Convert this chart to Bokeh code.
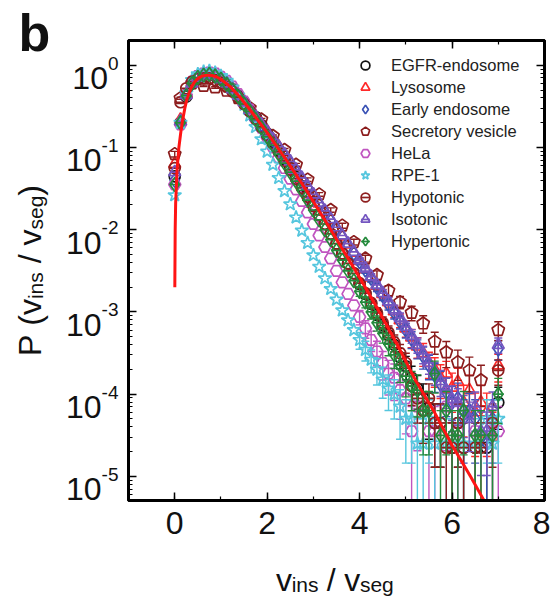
import numpy as np
from bokeh.plotting import figure
from bokeh.layouts import row, column
from bokeh.models import (Range1d, LinearAxis, LogAxis, FixedTicker, SingleIntervalTicker,
                          Legend, LegendItem, CustomJSTickFormatter, LogScale)
from bokeh.core.properties import value
from bokeh.embed import file_html
from bokeh.resources import INLINE

nan = float("nan")

# ---------------- data (values are log10 of P) ----------------
x_bins = [0, 0.125, 0.25, 0.375, 0.5, 0.625, 0.75, 0.875, 1, 1.125, 1.25, 1.375, 1.5, 1.625,
          1.75, 1.875, 2, 2.125, 2.25, 2.375, 2.5, 2.625, 2.75, 2.875, 3, 3.125, 3.25, 3.375,
          3.5, 3.625, 3.75, 3.875, 4, 4.125, 4.25, 4.375, 4.5, 4.625, 4.75, 4.875, 5, 5.125,
          5.25, 5.375, 5.5, 5.625, 5.75, 5.875, 6, 6.125, 6.25, 6.375, 6.5, 6.625, 6.75, 6.875, 7]

egfr_log = [-1.35, -0.70, -0.38, -0.22, -0.15, -0.12, -0.11, -0.13, -0.17, -0.22, -0.29, -0.37,
            -0.45, -0.54, -0.63, -0.73, -0.83, -0.93, -1.04, -1.14, -1.25, -1.36, -1.47, -1.59,
            -1.70, -1.82, -1.93, -2.05, -2.17, -2.29, -2.41, -2.53,
            -2.66, -2.78, -2.90, -3.03, -3.16, -3.28, -3.40, -3.55, -3.66, -3.80, -3.93, -4.05,
            -4.17, -4.35, -4.35, nan, -4.65, -4.35, -4.65, nan, -4.65, nan, -4.65, nan, -4.10]
egfr_err = [0.10, 0.12, 0.13, 0.15, 0.18, 0.21, 0.24, 0.28, 0.32, 0.38, 0.44, 0.50, 0.58, 0.71,
            0.71, 0, 1.0, 0.71, 1.0, 0, 1.0, 0, 1.0, 0, 0.53]

lyso_log = [-1.20, -0.66, -0.35, -0.21, -0.14, -0.11, -0.10, -0.12, -0.16, -0.21, -0.28, -0.36,
            -0.44, -0.53, -0.62, -0.71, -0.80, -0.90, -0.99, -1.09, -1.18, -1.28, -1.38, -1.48,
            -1.58, -1.68, -1.78, -1.88, -1.98, -2.08, -2.18, -2.28,
            -2.38, -2.48, -2.58, -2.68, -2.78, -2.88, -2.99, -3.10, -3.20, -3.31, -3.42, -3.50,
            -3.62, -3.70, -3.80, -3.75, -3.92, -3.85, -4.10, -3.95, -4.22, -4.10, -4.22, -4.52, -3.65]
lyso_err = [0.085, 0.095, 0.11, 0.12, 0.135, 0.15, 0.17, 0.19, 0.22, 0.25, 0.28, 0.31, 0.35,
            0.39, 0.44, 0.41, 0.50, 0.46, 0.62, 0.52, 0.71, 0.62, 0.71, 1.0, 0.37]

early_log = [-1.40, -0.70, -0.37, -0.22, -0.15, -0.12, -0.11, -0.13, -0.17, -0.22, -0.29, -0.37,
             -0.45, -0.54, -0.63, -0.72, -0.81, -0.91, -1.00, -1.10, -1.19, -1.29, -1.39, -1.49,
             -1.59, -1.69, -1.79, -1.89, -1.99, -2.09, -2.19, -2.29,
             -2.39, -2.49, -2.59, -2.70, -2.80, -2.91, -3.01, -3.12, -3.22, -3.33, -3.44, -3.54,
             -3.65, -3.77, -3.88, -3.98, -4.10, -4.05, -4.30, -4.20, -4.30, nan, -4.60, -4.30, -3.45]
early_err = [0.08, 0.09, 0.10, 0.11, 0.13, 0.14, 0.16, 0.18, 0.20, 0.23, 0.26, 0.30, 0.33, 0.38,
             0.44, 0.49, 0.56, 0.53, 0.71, 0.63, 0.71, 0, 1.0, 0.71, 0.27]

secr_x = [0, 0.125, 0.375, 0.625, 0.875, 1.125, 1.375, 1.625, 1.875, 2.125, 2.375, 2.625, 2.875,
          3.125, 3.375, 3.625, 3.875, 4.125, 4.375, 4.625, 4.875, 5.125, 5.375, 5.625, 5.875,
          6.125, 6.375, 6.625, 7]
secr_log = [-1.08, -0.40, -0.22, -0.25, -0.27, -0.31, -0.40, -0.52, -0.66, -0.86, -1.03, -1.21,
            -1.39, -1.57, -1.76, -1.95, -2.15, -2.35, -2.55, -2.74, -2.88, -3.01, -3.14, -3.36,
            -3.49, -3.61, -3.71, -3.83, -3.22]
secr_err = [0.08, 0.03, 0.02, 0.02, 0.02, 0.02, 0.02, 0.03, 0.03, 0.03, 0.04, 0.04, 0.05, 0.05,
            0.06, 0.07, 0.08, 0.095, 0.12, 0.15, 0.17, 0.20, 0.24, 0.30, 0.35, 0.40, 0.45, 0.52, 0.26]

hela_log = [-1.45, -0.72, -0.36, -0.20, -0.13, -0.10, -0.09, -0.10, -0.14, -0.19, -0.26, -0.35,
            -0.44, -0.54, -0.65, -0.76, -0.88, -1.00, -1.12, -1.25, -1.38, -1.51, -1.65, -1.79,
            -1.93, -2.07, -2.21, -2.35, -2.50, -2.64, -2.78, -2.92,
            -3.06, -3.20, -3.34, -3.48, -3.62, -3.75, -3.80, -3.95, -4.05, -4.45, -4.15, nan,
            -4.45, -4.45, nan, -4.15, nan, -4.45, nan, nan, -4.45, nan, nan, -4.45, -4.45]
hela_err = [0.20, 0.24, 0.28, 0.33, 0.38, 0.45, 0.47, 0.56, 0.63, 1.0, 0.71, 0, 1.0, 1.0, 0,
            0.71, 0, 1.0, 0, 0, 1.0, 0, 0, 1.0, 1.0]

rpe_log = [-1.58, -0.70, -0.34, -0.18, -0.11, -0.08, -0.07, -0.09, -0.13, -0.19, -0.27, -0.37,
           -0.48, -0.61, -0.75, -0.90, -1.05, -1.21, -1.37, -1.53, -1.69, -1.85, -2.01, -2.16,
           -2.31, -2.45, -2.59, -2.72, -2.85, -2.98, -3.10, -3.22,
           -3.34, -3.46, -3.58, -3.70, -3.82, -3.93, -4.00, -4.15, -4.30, -4.30, -4.60, -4.60,
           -4.30, -4.60, nan, -4.60, -4.60, nan, -4.60, nan, -4.60, nan, -4.30, -4.60, -4.30]
rpe_err = [0.23, 0.27, 0.31, 0.35, 0.41, 0.46, 0.50, 0.60, 0.71, 0.71, 1.0, 1.0, 0.71, 1.0, 0,
           1.0, 1.0, 0, 1.0, 0, 1.0, 0, 0.71, 1.0, 0.71]

hypo_log = [-1.25, -0.45, -0.28, -0.20, -0.17, -0.16, -0.16, -0.18, -0.21, -0.26, -0.32, -0.39,
            -0.47, -0.56, -0.65, -0.75, -0.85, -0.95, -1.05, -1.16, -1.27, -1.38, -1.49, -1.60,
            -1.71, -1.82, -1.93, -2.05, -2.17, -2.29, -2.41, -2.53,
            -2.65, -2.77, -2.89, -3.01, -3.13, -3.25, -3.37, -3.50, -3.62, -3.90, -4.05, -4.20,
            -4.05, -4.35, -4.35, -4.65, -4.65, -4.35, -4.65, nan, -4.65, -4.65, nan, -4.35, -3.71]
hypo_err = [0.10, 0.11, 0.13, 0.15, 0.17, 0.20, 0.23, 0.27, 0.31, 0.42, 0.50, 0.60, 0.50, 0.71,
            0.71, 1.0, 1.0, 0.71, 1.0, 0, 1.0, 1.0, 0, 0.71, 0.34]

iso_log = [-1.30, -0.68, -0.36, -0.22, -0.15, -0.12, -0.11, -0.13, -0.17, -0.22, -0.29, -0.37,
           -0.45, -0.54, -0.63, -0.72, -0.81, -0.90, -0.99, -1.08, -1.17, -1.27, -1.37, -1.47,
           -1.57, -1.67, -1.77, -1.87, -1.97, -2.07, -2.17, -2.27,
           -2.37, -2.47, -2.57, -2.67, -2.77, -2.87, -2.97, -3.07, -3.18, -3.29, -3.40, -3.51,
           -3.62, -3.73, -3.84, -3.95, -4.06, -4.10, -4.20, -4.30, -4.15, -4.45, -4.45, -4.15, -3.40]
iso_err = [0.065, 0.07, 0.08, 0.09, 0.10, 0.11, 0.13, 0.14, 0.16, 0.19, 0.21, 0.24, 0.27, 0.31,
           0.35, 0.40, 0.45, 0.47, 0.53, 0.60, 0.50, 0.71, 0.71, 0.50, 0.21]

hyper_log = [-1.45, -0.70, -0.37, -0.22, -0.15, -0.12, -0.11, -0.13, -0.17, -0.23, -0.30, -0.38,
             -0.47, -0.56, -0.66, -0.76, -0.87, -0.97, -1.08, -1.19, -1.30, -1.41, -1.52, -1.64,
             -1.76, -1.88, -2.00, -2.12, -2.25, -2.37, -2.50, -2.62,
             -2.75, -2.88, -3.00, -3.13, -3.26, -3.39, -3.52, -3.65, -3.78, -3.90, -3.95, -4.20,
             -4.20, -3.75, -4.50, -4.20, -4.50, -4.50, -4.20, nan, -4.50, -4.50, nan, -4.50, -4.00]
hyper_err = [0.13, 0.15, 0.18, 0.21, 0.24, 0.28, 0.32, 0.38, 0.44, 0.50, 0.53, 0.71, 0.71, 0.42,
             1.0, 0.71, 1.0, 1.0, 0.71, 0, 1.0, 1.0, 0, 1.0, 0.56]

fit_x = [0.002, 0.01, 0.02, 0.05, 0.09, 0.13, 0.17, 0.22, 0.27, 0.35, 0.42, 0.5, 0.6, 0.7, 0.8,
         0.9, 1.0, 1.2, 1.4, 1.6, 1.8, 2.0, 2.2, 2.4, 2.6, 2.8, 3.0, 3.3, 3.6, 4.0, 4.4, 4.8,
         5.2, 5.6, 6.0, 6.4, 6.7]
fit_log = [-2.70, -2.00, -1.68, -1.28, -1.00, -0.82, -0.67, -0.52, -0.40, -0.28, -0.21, -0.16,
           -0.13, -0.12, -0.125, -0.14, -0.17, -0.26, -0.38, -0.52, -0.67, -0.82, -0.98, -1.14,
           -1.31, -1.48, -1.66, -1.93, -2.21, -2.58, -2.97, -3.38, -3.82, -4.20, -4.62, -5.00, -5.30]

y_tick_values = [1, 1e-1, 1e-2, 1e-3, 1e-4, 1e-5]
y_tick_exponents = ["0", "-1", "-2", "-3", "-4", "-5"]

series = [
    dict(name="EGFR-endosome", x=x_bins, logp=egfr_log, err=egfr_err, marker="circle", size=11, color="#111111", bar=None),
    dict(name="Lysosome", x=x_bins, logp=lyso_log, err=lyso_err, marker="triangle", size=12, color="#ff2a2a", bar=None),
    dict(name="Early endosome", x=x_bins, logp=early_log, err=early_err, marker="diamond", size=14, color="#3a52b5", bar=None),
    dict(name="Secretory vesicle", x=secr_x, logp=secr_log, err=secr_err, marker="pentagon", size=12, color="#8b1c1c", bar=None),
    dict(name="HeLa", x=x_bins, logp=hela_log, err=hela_err, marker="hex", size=12, color="#c055c0", bar=None),
    dict(name="RPE-1", x=x_bins, logp=rpe_log, err=rpe_err, marker="star", size=14, color="#55c6de", bar=None),
    dict(name="Hypotonic", x=x_bins, logp=hypo_log, err=hypo_err, marker="circle", size=11, color="#8e1e1e", bar=10),
    dict(name="Isotonic", x=x_bins, logp=iso_log, err=iso_err, marker="triangle", size=12, color="#7456c0", bar=8),
    dict(name="Hypertonic", x=x_bins, logp=hyper_log, err=hyper_err, marker="diamond", size=14, color="#248a3c", bar=11),
]

FONT = "Liberation Sans"
TXT = "#111111"
W, H = 550, 600
LEFT_W = 126                          # width of the left text strip
MAIN_H = 560
FL, FT, FR, FB = 128, 40, 544, 500    # frame edges on the page
Y0, Y1 = 5.1e-6, 2.0

# ---------------- main plot ----------------
p = figure(width=W - LEFT_W, height=MAIN_H, title=None, x_range=Range1d(-1, 8),
           y_range=Range1d(Y0, Y1), y_axis_type="log", output_backend="svg",
           toolbar_location=None, min_border_left=FL - LEFT_W, min_border_right=W - FR,
           min_border_top=FT, min_border_bottom=MAIN_H - FB)
p.grid.visible = False
p.outline_line_color = "black"
p.outline_line_width = 3
p.background_fill_color = "white"
p.border_fill_color = "white"

xt = SingleIntervalTicker(interval=2, num_minor_ticks=2)
minor_y = [m * 10.0 ** e for e in range(-6, 1) for m in range(2, 10)]
yt = FixedTicker(ticks=y_tick_values, minor_ticks=minor_y)
blank = CustomJSTickFormatter(code="return ''")

def style_axis(ax, labels=True):
    ax.axis_line_width = 3
    ax.axis_line_color = "black"
    ax.major_tick_in = 8
    ax.major_tick_out = 0
    ax.minor_tick_in = 4
    ax.minor_tick_out = 0
    ax.major_tick_line_width = 1.5
    ax.minor_tick_line_width = 1.2
    ax.major_tick_line_color = "black"
    ax.minor_tick_line_color = "black"
    if not labels:
        ax.formatter = blank
        ax.major_label_standoff = 0

p.xaxis.ticker = xt
style_axis(p.xaxis[0])
p.xaxis.major_label_text_font = FONT
p.xaxis.major_label_text_font_size = "32px"
p.xaxis.major_label_text_color = TXT
p.xaxis.major_label_standoff = 11
p.yaxis.ticker = yt
style_axis(p.yaxis[0], labels=False)

top = LinearAxis(ticker=xt)
style_axis(top, labels=False)
p.add_layout(top, "above")
right = LogAxis(ticker=yt)
style_axis(right, labels=False)
p.add_layout(right, "right")

items = []
for s in series:
    c = s["color"]
    x = np.array(s["x"], dtype=float)
    y = 10.0 ** np.array(s["logp"], dtype=float)
    e = np.array(s["err"], dtype=float)
    if len(e) < len(x):
        e = np.concatenate([np.zeros(len(x) - len(e)), e])
    ok = np.isfinite(y) & (e > 0)
    up = y * (1 + e)
    lo = np.where(e >= 1, 1e-7, y * (1 - e))
    p.segment(x0=x[ok], y0=lo[ok], x1=x[ok], y1=up[ok], line_color=c, line_width=1.4)
    p.scatter(x=x[ok], y=up[ok], marker="dash", size=8, line_color=c, line_width=1.4)
    lc = ok & (e < 1)
    p.scatter(x=x[lc], y=lo[lc], marker="dash", size=8, line_color=c, line_width=1.4)
    fin = np.isfinite(y)
    if s["marker"] == "pentagon":
        r = p.ngon(x=x[fin], y=y[fin], radius=6.5, radius_units="screen", n=5,
                   fill_color=None, line_color=c, line_width=1.7)
    else:
        r = p.scatter(x=x[fin], y=y[fin], marker=s["marker"], size=s["size"],
                      fill_color=None, line_color=c, line_width=1.7)
    rs = [r]
    if s["bar"]:
        rd = p.scatter(x=x[fin], y=y[fin], marker="dash", size=s["bar"], line_color=c,
                       line_width=1.7)
        rs.append(rd)
    items.append(LegendItem(label=s["name"], renderers=rs))

p.line(x=fit_x, y=10.0 ** np.array(fit_log), line_color="#ff1414", line_width=3)

ROW = 22
legend = Legend(items=items, location=(350 - FL, FB - (54 + 9 * ROW)), glyph_width=30,
                glyph_height=ROW, spacing=0, label_standoff=11, padding=0, margin=0,
                border_line_color=None, background_fill_alpha=0,
                label_text_font=FONT, label_text_font_size="16.5px",
                label_text_color="#222222")
p.add_layout(legend)

# ---------------- left strip: panel letter, y tick labels, y title ----------------
dec_px = (FB - FT) / (np.log10(Y1) - np.log10(Y0))
left = figure(width=LEFT_W, height=H, title=None, x_range=Range1d(0, LEFT_W),
              y_range=Range1d(H, 0), x_axis_location=None, y_axis_location=None,
              min_border=0, output_backend="svg", toolbar_location=None)
left.outline_line_color = None
left.grid.visible = False
left.extra_y_ranges = {"p": Range1d(10 ** (np.log10(Y0) - (H - FB) / dec_px),
                                    10 ** (np.log10(Y1) + FT / dec_px))}
left.extra_y_scales = {"p": LogScale()}

def txt(fig, x, y, t, size, **kw):
    fig.text(x=[x], y=[y], text=[t], text_font=value(FONT), text_font_size=value(f"{size}px"),
             text_color=TXT, **kw)

txt(left, 18, 32, "b", 52, text_font_style="bold", text_baseline="alphabetic", text_align="left")

for v, ex in zip(y_tick_values, y_tick_exponents):
    expw = 0.556 * 19 * sum(1 for ch in ex if ch.isdigit()) + 0.333 * 19 * ex.count("-")
    xa = FL - 10 - expw
    left.text(x=[xa], y=[v], text=["10"], y_range_name="p", text_font=value(FONT),
              text_font_size=value("32px"), text_color=TXT, text_align="right",
              text_baseline="alphabetic", y_offset=13)
    left.text(x=[xa], y=[v], text=[ex], y_range_name="p", text_font=value(FONT),
              text_font_size=value("19px"), text_color=TXT, text_align="left",
              text_baseline="alphabetic", y_offset=-2)

CW = {"v": 0.5, "i": 0.222, "n": 0.556, "s": 0.5, "e": 0.556, "g": 0.556, "/": 0.278,
      "P": 0.667, "(": 0.333, ")": 0.333}
def tw(t, size):
    return sum(CW[ch] for ch in t) * size
SP = 0.278 * 32

ypieces = [("P", 32, 0, SP), ("(", 32, 0, 0), ("v", 32, 0, 0), ("ins", 21, 1, SP), ("/", 32, 0, SP),
           ("v", 32, 0, 0), ("seg", 21, 1, 0), (")", 32, 0, 0)]
total = sum(tw(t, sz) + g for t, sz, sub, g in ypieces)
cy = (FT + FB) / 2 + total / 2
for t, sz, sub, g in ypieces:
    txt(left, 29 + 6 * sub, cy, t, sz, angle=np.pi / 2, text_baseline="alphabetic",
        text_align="left")
    cy -= tw(t, sz) + g

# ---------------- bottom strip: x title ----------------
bottom = figure(width=W - LEFT_W, height=H - MAIN_H, title=None, x_range=Range1d(LEFT_W, W),
                y_range=Range1d(H, MAIN_H), x_axis_location=None, y_axis_location=None,
                min_border=0, output_backend="svg", toolbar_location=None)
bottom.outline_line_color = None
bottom.grid.visible = False
xpieces = [("v", 32, 0, 0), ("ins", 21, 1, SP), ("/", 32, 0, SP), ("v", 32, 0, 0), ("seg", 21, 1, 0)]
total = sum(tw(t, sz) + g for t, sz, sub, g in xpieces)
cx = (FL + FR) / 2 - total / 2
for t, sz, sub, g in xpieces:
    txt(bottom, cx, 579 + 5 * sub, t, sz, text_baseline="alphabetic", text_align="left")
    cx += tw(t, sz) + g

layout = row(left, column(p, bottom, spacing=0), spacing=0)
open("out.html", "w").write(file_html(layout, INLINE))
